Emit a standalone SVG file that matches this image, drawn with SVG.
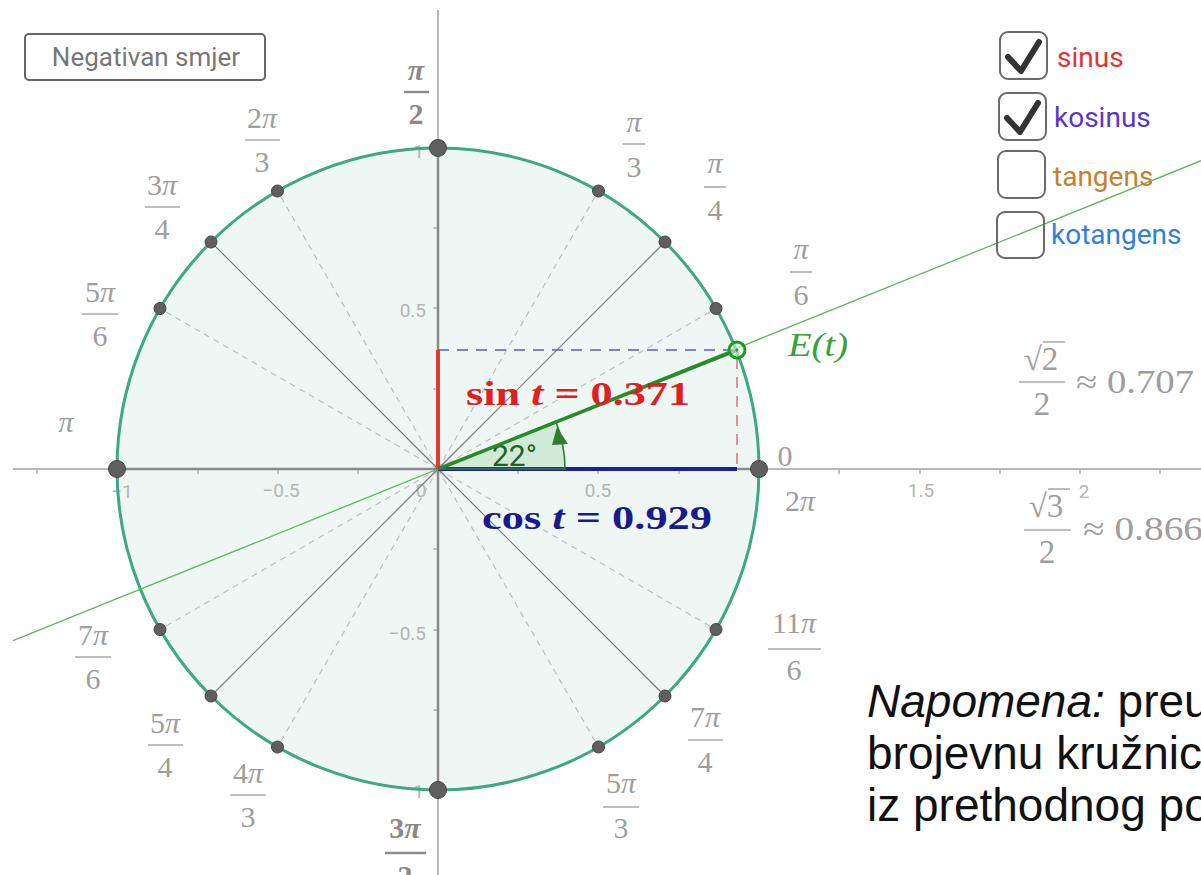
<svg xmlns="http://www.w3.org/2000/svg" width="1201" height="875" viewBox="0 0 1201 875">
<style>
.fr{font-family:"Liberation Serif","DejaVu Serif",serif;font-size:30px;fill:#9e9e9e;text-anchor:middle}
.frb{font-family:"Liberation Serif","DejaVu Serif",serif;font-size:30px;fill:#8a8a8a;text-anchor:middle;font-weight:bold}
.bar{stroke:#aaaaaa;stroke-width:1.6}
.barb{stroke:#8a8a8a;stroke-width:2.4}
.tk{font-family:Roboto,"Liberation Sans",sans-serif;font-size:19px;fill:#b4b4b4}
.tick{stroke:#b0b0b0;stroke-width:1.5}
.dash{stroke:#bdbdbd;stroke-width:1.2;stroke-dasharray:6 5;fill:none}
.sol{stroke:#7a7a7a;stroke-width:1.2;fill:none}
.dot{fill:#5f5f5f;stroke:#444;stroke-width:1}
.cb{fill:#fff;stroke:#6a6a6a;stroke-width:2}
.ck{fill:none;stroke:#333;stroke-width:6;stroke-linecap:round;stroke-linejoin:round}
.ui{font-family:Roboto,"Liberation Sans",sans-serif;font-size:28px}
.note{font-family:"Liberation Sans",Arial,sans-serif;font-size:46px;fill:#111}
.ex{font-family:"Liberation Serif","DejaVu Serif",serif;font-size:33px;fill:#9e9e9e}
</style>
<rect x="0" y="0" width="1201" height="875" fill="#ffffff"/>

<circle cx="438" cy="469" r="321" fill="#eef7f4"/>

<g id="axes">
<line x1="13" y1="469" x2="1201" y2="469" stroke="#b8b8b8" stroke-width="2"/>
<line x1="438" y1="10" x2="438" y2="875" stroke="#b8b8b8" stroke-width="2"/>
<g class="tick">
<line x1="37" y1="469" x2="37" y2="474"/><line x1="198" y1="469" x2="198" y2="474"/><line x1="278" y1="469" x2="278" y2="474"/><line x1="358" y1="469" x2="358" y2="474"/>
<line x1="518" y1="469" x2="518" y2="474"/><line x1="598" y1="469" x2="598" y2="474"/><line x1="679" y1="469" x2="679" y2="474"/>
<line x1="839" y1="469" x2="839" y2="474"/><line x1="920" y1="469" x2="920" y2="474"/><line x1="1000" y1="469" x2="1000" y2="474"/><line x1="1080" y1="469" x2="1080" y2="474"/><line x1="1160" y1="469" x2="1160" y2="474"/>
<line x1="433" y1="389" x2="438" y2="389"/><line x1="433" y1="308" x2="438" y2="308"/><line x1="433" y1="228" x2="438" y2="228"/>
<line x1="433" y1="549" x2="438" y2="549"/><line x1="433" y1="630" x2="438" y2="630"/><line x1="433" y1="710" x2="438" y2="710"/>
</g>
<text class="tk" x="122" y="498" text-anchor="middle">−1</text>
<text class="tk" x="281" y="497" text-anchor="middle">−0.5</text>
<text class="tk" x="421" y="497" text-anchor="middle">0</text>
<text class="tk" x="598" y="497" text-anchor="middle">0.5</text>
<text class="tk" x="921" y="497" text-anchor="middle">1.5</text>
<text class="tk" x="1084" y="498" text-anchor="middle">2</text>
<text class="tk" x="426" y="317" text-anchor="end">0.5</text>
<text class="tk" x="426" y="640" text-anchor="end">−0.5</text>
<text class="tk" x="424" y="158" text-anchor="end">1</text>
<text class="tk" x="424" y="798" text-anchor="end">1</text>
</g>

<g id="radials">
<line class="dash" x1="438" y1="469" x2="716" y2="308.5"/>
<line class="dash" x1="438" y1="469" x2="598.5" y2="191"/>
<line class="dash" x1="438" y1="469" x2="277.5" y2="191"/>
<line class="dash" x1="438" y1="469" x2="160" y2="308.5"/>
<line class="dash" x1="438" y1="469" x2="160" y2="629.5"/>
<line class="dash" x1="438" y1="469" x2="277.5" y2="747"/>
<line class="dash" x1="438" y1="469" x2="598.5" y2="747"/>
<line class="dash" x1="438" y1="469" x2="716" y2="629.5"/>
<line class="sol" x1="438" y1="469" x2="665" y2="242"/>
<line class="sol" x1="438" y1="469" x2="211" y2="242"/>
<line class="sol" x1="438" y1="469" x2="211" y2="696"/>
<line class="sol" x1="438" y1="469" x2="665" y2="696"/>
<line x1="117" y1="469" x2="759" y2="469" stroke="#8a8a8a" stroke-width="2.5"/>
<line x1="438" y1="148" x2="438" y2="790" stroke="#8a8a8a" stroke-width="2.5"/>
</g>

<g id="unit-circle">
<circle cx="438" cy="469" r="321" fill="none" stroke="#3ea882" stroke-width="3"/>
</g>

<g id="connectors">
<line x1="13" y1="640.7" x2="1201" y2="160.7" stroke="#5cb85c" stroke-width="1.3"/>
<line x1="438" y1="350" x2="736" y2="350" stroke="#5a5ad0" stroke-width="1.4" stroke-dasharray="11 8"/>
<line x1="737" y1="358" x2="737" y2="469" stroke="#e07585" stroke-width="1.6" stroke-dasharray="11 8"/>
<line x1="438" y1="469" x2="438" y2="350" stroke="#e53935" stroke-width="4"/>
<line x1="438" y1="469" x2="737" y2="469" stroke="#1f1f9e" stroke-width="4"/>
</g>

<g id="angle">
<path d="M438,469 L565,469 A127,127 0 0 0 555.75,421.4 Z" fill="#4caf50" fill-opacity="0.18" stroke="#2e7d32" stroke-width="1.6"/>
<polygon points="557,427 552,445 568,444" fill="#2e7d32"/>
<text x="492" y="466" font-family="Roboto,'Liberation Sans',sans-serif" font-size="30" fill="#235f23">22°</text>
<line x1="438" y1="469" x2="737" y2="350" stroke="#2a8a2a" stroke-width="3.5"/>
</g>

<g id="points">
<circle class="dot" cx="716" cy="308.5" r="6"/>
<circle class="dot" cx="665" cy="242" r="6"/>
<circle class="dot" cx="598.5" cy="191" r="6"/>
<circle class="dot" cx="277.5" cy="191" r="6"/>
<circle class="dot" cx="211" cy="242" r="6"/>
<circle class="dot" cx="160" cy="308.5" r="6"/>
<circle class="dot" cx="160" cy="629.5" r="6"/>
<circle class="dot" cx="211" cy="696" r="6"/>
<circle class="dot" cx="277.5" cy="747" r="6"/>
<circle class="dot" cx="598.5" cy="747" r="6"/>
<circle class="dot" cx="665" cy="696" r="6"/>
<circle class="dot" cx="716" cy="629.5" r="6"/>
<circle class="dot" cx="759" cy="469" r="8.5"/>
<circle class="dot" cx="438" cy="148" r="8.5"/>
<circle class="dot" cx="117" cy="469" r="8.5"/>
<circle class="dot" cx="438" cy="790" r="8.5"/>
</g>

<g id="point-E">
<circle cx="737" cy="350" r="8" fill="#dff0df" fill-opacity="0.6" stroke="#1e9a1e" stroke-width="3"/>
<circle cx="737" cy="350" r="1.5" fill="#1e9a1e"/>
<text x="788" y="356" font-family="'Liberation Serif','DejaVu Serif',serif" font-style="italic" font-size="33" fill="#3aa03a" textLength="60" lengthAdjust="spacingAndGlyphs">E(t)</text>
</g>

<g id="sin-label">
<text x="466" y="405" font-family="'Liberation Serif','DejaVu Serif',serif" font-weight="bold" font-size="33" fill="#e02020" textLength="224" lengthAdjust="spacingAndGlyphs">sin <tspan font-style="italic">t</tspan> = 0.371</text>
</g>
<g id="cos-label">
<text x="482" y="529" font-family="'Liberation Serif','DejaVu Serif',serif" font-weight="bold" font-size="33" fill="#1a1a8a" textLength="230" lengthAdjust="spacingAndGlyphs">cos <tspan font-style="italic">t</tspan> = 0.929</text>
</g>

<g id="angle-labels">
<g id="l-pi2"><text class="frb" x="416" y="80" font-style="italic">π</text><line class="barb" x1="404" y1="92" x2="429" y2="92"/><text class="frb" x="416" y="124">2</text></g>
<g id="l-2pi3"><text class="fr" x="262" y="128">2<tspan font-style="italic">π</tspan></text><line class="bar" x1="245" y1="140" x2="280" y2="140"/><text class="fr" x="262" y="172">3</text></g>
<g id="l-3pi4"><text class="fr" x="162" y="195">3<tspan font-style="italic">π</tspan></text><line class="bar" x1="145" y1="207" x2="180" y2="207"/><text class="fr" x="162" y="239">4</text></g>
<g id="l-5pi6"><text class="fr" x="100" y="302">5<tspan font-style="italic">π</tspan></text><line class="bar" x1="82" y1="314" x2="118" y2="314"/><text class="fr" x="100" y="346">6</text></g>
<g id="l-pi"><text class="fr" x="66" y="432" font-style="italic">π</text></g>
<g id="l-7pi6"><text class="fr" x="93" y="645">7<tspan font-style="italic">π</tspan></text><line class="bar" x1="75" y1="657" x2="111" y2="657"/><text class="fr" x="93" y="689">6</text></g>
<g id="l-5pi4"><text class="fr" x="165" y="733">5<tspan font-style="italic">π</tspan></text><line class="bar" x1="148" y1="745" x2="183" y2="745"/><text class="fr" x="165" y="777">4</text></g>
<g id="l-4pi3"><text class="fr" x="248" y="783">4<tspan font-style="italic">π</tspan></text><line class="bar" x1="230" y1="795" x2="266" y2="795"/><text class="fr" x="248" y="827">3</text></g>
<g id="l-3pi2"><text class="frb" x="405" y="838">3<tspan font-style="italic">π</tspan></text><line class="barb" x1="385" y1="853" x2="426" y2="853"/><text class="frb" x="405" y="886">2</text></g>
<g id="l-5pi3"><text class="fr" x="621" y="793">5<tspan font-style="italic">π</tspan></text><line class="bar" x1="603" y1="807" x2="639" y2="807"/><text class="fr" x="621" y="838">3</text></g>
<g id="l-7pi4"><text class="fr" x="705" y="727">7<tspan font-style="italic">π</tspan></text><line class="bar" x1="688" y1="740" x2="723" y2="740"/><text class="fr" x="705" y="772">4</text></g>
<g id="l-11pi6"><text class="fr" x="794" y="633">11<tspan font-style="italic">π</tspan></text><line class="bar" x1="768" y1="649" x2="821" y2="649"/><text class="fr" x="794" y="680">6</text></g>
<g id="l-pi6"><text class="fr" x="801" y="259" font-style="italic">π</text><line class="bar" x1="790" y1="272" x2="812" y2="272"/><text class="fr" x="801" y="305">6</text></g>
<g id="l-pi4"><text class="fr" x="715" y="173" font-style="italic">π</text><line class="bar" x1="704" y1="187" x2="726" y2="187"/><text class="fr" x="715" y="220">4</text></g>
<g id="l-pi3"><text class="fr" x="634" y="132" font-style="italic">π</text><line class="bar" x1="623" y1="144" x2="645" y2="144"/><text class="fr" x="634" y="177">3</text></g>
<g id="l-0"><text class="fr" x="785" y="466">0</text></g>
<g id="l-2pi"><text class="fr" x="800" y="511">2<tspan font-style="italic">π</tspan></text></g>
</g>

<g id="exact-values">
<g id="v-sqrt2"><text class="ex" x="1041" y="370" text-anchor="middle">√2</text><line class="bar" x1="1043" y1="342" x2="1065" y2="342"/><line class="bar" x1="1019" y1="382" x2="1065" y2="382"/><text class="ex" x="1042" y="415" text-anchor="middle">2</text>
<text class="ex" x="1076" y="393" textLength="118" lengthAdjust="spacingAndGlyphs">≈ 0.707</text></g>
<g id="v-sqrt3"><text class="ex" x="1046" y="517" text-anchor="middle">√3</text><line class="bar" x1="1048" y1="489" x2="1070" y2="489"/><line class="bar" x1="1024" y1="530" x2="1071" y2="530"/><text class="ex" x="1047" y="563" text-anchor="middle">2</text>
<text class="ex" x="1083" y="540" textLength="120" lengthAdjust="spacingAndGlyphs">≈ 0.866</text></g>
</g>

<g id="button">
<rect x="25" y="34" width="240" height="46" rx="4" fill="#fff" stroke="#666" stroke-width="2"/>
<text x="146" y="66" text-anchor="middle" font-family="Roboto,'Liberation Sans',sans-serif" font-size="26" fill="#777">Negativan smjer</text>
</g>

<g id="cb-sinus"><rect class="cb" x="1000" y="32" width="47" height="47" rx="8"/><path class="ck" d="M1008,57 L1021,71 L1039,42"/><text class="ui" x="1057" y="67" fill="#e03535">sinus</text></g>
<g id="cb-kosinus"><rect class="cb" x="999" y="93" width="47" height="47" rx="8"/><path class="ck" d="M1007,118 L1020,132 L1038,103"/><text class="ui" x="1054" y="127" fill="#5a35cc">kosinus</text></g>
<g id="cb-tangens"><rect class="cb" x="998" y="151" width="47" height="47" rx="8"/><text class="ui" x="1053" y="186" fill="#c8802e">tangens</text></g>
<g id="cb-kotangens"><rect class="cb" x="997" y="212" width="47" height="46" rx="8" fill-opacity="0"/><text class="ui" x="1051" y="244" fill="#2f7fe0">kotangens</text></g>

<g id="note">
<text class="note" x="867" y="717"><tspan font-style="italic">Napomena:</tspan> preu</text>
<text class="note" x="867" y="769">brojevnu kružnic</text>
<text class="note" x="867" y="821">iz prethodnog po</text>
</g>
</svg>
